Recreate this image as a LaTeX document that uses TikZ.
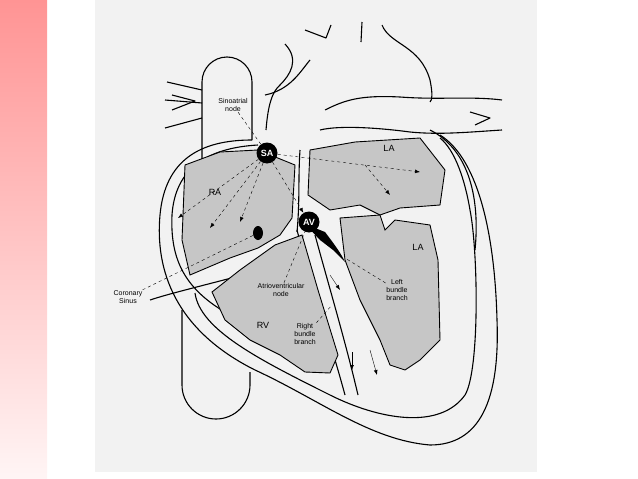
\documentclass[tikz,border=0pt]{standalone}
\usepackage{fontspec}
\setmainfont{Liberation Sans}
\usetikzlibrary{arrows.meta}
\begin{document}
\begin{tikzpicture}[x=1pt,y=-1pt,
  ln/.style={line width=1.1pt,line join=round},
  cav/.style={fill=gray!45,draw=black,line width=0.9pt},
  da/.style={dashed,thin,-{Latex[length=5pt]}},
  dl/.style={dashed,thin},
  lab/.style={font=\fontsize{7}{8}\selectfont,align=center,inner sep=0.5pt},
  big/.style={font=\fontsize{9}{10}\selectfont,inner sep=0pt},
  nd/.style={circle,fill=black,text=white,inner sep=0pt,minimum size=21pt,font=\bfseries\fontsize{9}{10}\selectfont}]
\useasboundingbox (0,0) rectangle (638,479);
\shade[top color=red!42,bottom color=red!4] (0,0) rectangle (47,479);
\fill[gray!10] (95,0) rectangle (537,472);
% superior vena cava tube
\draw[ln] (202,170) -- (202,82) arc[start angle=180,end angle=360,radius=25] -- (252,140);
% inferior vena cava tube
\draw[ln] (182,310) -- (182,385) arc[start angle=180,end angle=0,radius=34] -- (250,372);
% veins left
\draw[ln] (167,82) -- (202,90); \draw[ln] (165,100)--(202,103); \draw[ln] (165,128)--(202,118);
\draw[ln] (172,95)--(195,101)--(172,110);
% aorta / pulmonary
\draw[ln] (285,44) .. controls (300,60) and (290,75) .. (280,85) .. controls (272,92) and (268,105) .. (266,130);
\draw[ln] (305,30) -- (326,38) -- (331,25);
\draw[ln] (362,22) -- (361,42);
\draw[ln] (382,25) .. controls (390,45) and (420,45) .. (430,80) .. controls (433,95) and (432,100) .. (430,102);
\draw[ln] (265,95) .. controls (290,90) and (300,72) .. (310,60);
\draw[ln] (325,110) .. controls (345,100) and (360,95) .. (400,97) .. controls (440,100) and (470,96) .. (502,100);
\draw[ln] (320,130) .. controls (340,125) and (380,128) .. (410,132) .. controls (440,135) and (470,132) .. (502,130);
\draw[ln] (470,112) -- (490,118) -- (475,125);
% outer heart
\draw[ln] (252,140) .. controls (200,140) and (165,160) .. (160,215) .. controls (155,270) and (175,330) .. (255,370)
  .. controls (320,400) and (370,440) .. (430,445) .. controls (480,445) and (500,400) .. (497,320)
  .. controls (495,240) and (480,160) .. (440,135);
\draw[ln] (258,145) .. controls (205,148) and (175,170) .. (172,215) .. controls (170,260) and (185,290) .. (230,315);
\draw[ln] (150,300) .. controls (180,290) and (250,275) .. (300,258);
\draw[ln] (195,293) .. controls (200,330) and (260,360) .. (330,395) .. controls (380,420) and (440,430) .. (465,395)
  .. controls (480,370) and (478,250) .. (470,210) .. controls (465,180) and (455,150) .. (440,138);
\draw[ln] (430,130) .. controls (470,150) and (480,200) .. (475,250);
% septum
\draw[ln] (297,230) .. controls (310,280) and (330,340) .. (345,395);
\draw[ln] (315,235) .. controls (330,290) and (345,340) .. (358,395);
\draw[ln] (297,232) .. controls (300,200) and (298,180) .. (300,150);
% cavities
\draw[cav] (185,165) -- (220,152) -- (258,150) -- (295,165) -- (292,218) -- (280,235) -- (258,248) -- (230,258) -- (190,275) -- (182,240) -- cycle;
\draw[cav] (310,150) -- (355,142) -- (420,138) -- (445,170) -- (440,205) -- (400,208) -- (380,215) -- (360,205) -- (330,210) -- (308,195) -- cycle;
\draw[cav] (340,218) -- (380,215) -- (385,230) -- (395,220) -- (430,225) -- (438,260) -- (440,340) -- (420,360) -- (405,370) -- (390,365) -- (380,340) -- (360,300) -- (345,260) -- cycle;
\draw[cav] (212,292) -- (240,270) -- (275,245) -- (302,235) -- (318,290) -- (338,355) -- (330,373) -- (305,372) -- (280,355) -- (250,340) -- (225,320) -- cycle;
% bundle branch (black)
\fill (305,224) -- (325,232) .. controls (335,245) and (342,255) .. (345,262) -- (333,250) -- (320,240) -- cycle;
\fill (258,233) ellipse (5 and 7);
% nodes
\node[nd] (sa) at (267,153) {SA};
\node[nd] (av) at (309,222) {AV};
% labels
\node[lab] (san) at (233,105) {Sinoatrial\\node};
\node[big] (ra) at (215,192) {RA};
\node[big] (la1) at (389,148) {LA};
\node[big] (la2) at (418,247) {LA};
\node[big] (rv) at (263,325) {RV};
\node[lab] (cs) at (128,297) {Coronary\\Sinus};
\node[lab] (avn) at (281,290) {Atrioventricular\\node};
\node[lab] (lbb) at (397,290) {Left\\bundle\\branch};
\node[lab] (rbb) at (305,334) {Right\\bundle\\branch};
% connectors
\draw[dl] (san) -- (sa);
\draw[da] (sa) -- (178,218);
\draw[da] (sa) -- (210,228);
\draw[da] (sa) -- (240,222);
\draw[da] (sa) -- (av);
\draw[da] (sa) -- (420,172);
\draw[da] (365,165) -- (390,195);
\draw[dl] (cs) -- (258,233);
\draw[dl] (avn) -- (av);
\draw[dl] (lbb) -- (345,258);
\draw[dl] (rbb.north east) -- (332,305);
\draw[-{Latex[length=5pt]},thin] (330,275) -- (340,290);
\draw[-{Latex[length=5pt]},thin] (352,352) -- (352,370);
\draw[-{Latex[length=5pt]},thin] (370,350) -- (377,375);
\end{tikzpicture}
\end{document}
